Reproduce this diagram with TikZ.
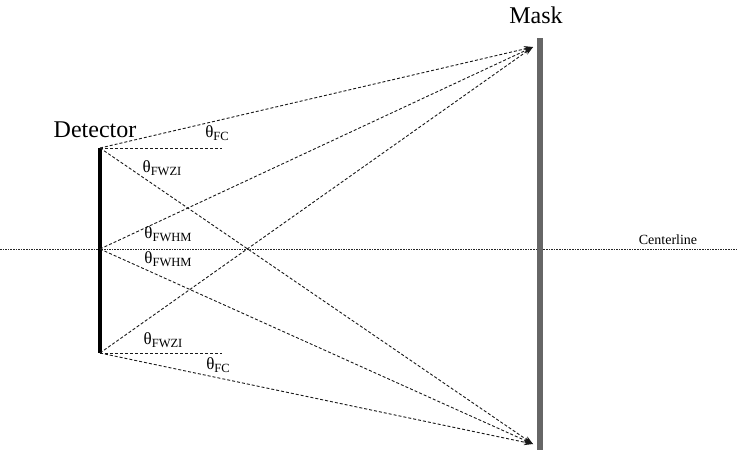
\documentclass[tikz,border=0pt]{standalone}
\usepackage{fontspec}
\setmainfont{Liberation Serif}
\usetikzlibrary{arrows.meta}
\tikzset{
  ray/.style={draw=black!90, line width=0.9pt, dash pattern=on 3pt off 2pt, -{Stealth[length=9pt,width=6pt]}},
  refline/.style={draw=black!90, line width=0.9pt, dash pattern=on 3pt off 2pt},
  cline/.style={draw=black!85, line width=0.8pt, dash pattern=on 1.6pt off 1pt},
  big/.style={font=\fontsize{24}{24}\selectfont, inner sep=0pt},
  ang/.style={font=\fontsize{17}{17}\selectfont, inner sep=0pt},
}
\newcommand{\thsub}[1]{θ\raisebox{-0.45ex}{\fontsize{12.5}{12.5}\selectfont #1}}
\begin{document}
\begin{tikzpicture}[x=1pt,y=-1pt]
\useasboundingbox (0,0) rectangle (738,450);
% centerline
\coordinate (cl0) at (0,249);
\coordinate (cl1) at (738,249);
\draw[cline] (cl0) -- (cl1);
% mask
\fill[black!60] (537,38) rectangle (543,450);
\node[big] (mask) at (536,15) {Mask};
% detector
\coordinate (dt) at (100,148);
\coordinate (dm) at (100,249);
\coordinate (db) at (100,353);
\draw[line width=3.5pt, black] (dt) -- (db);
\node[big] (det) at (95,130) {Detector};
% targets
\coordinate (mt) at (533,47);
\coordinate (mb) at (533,444);
\coordinate (ht) at (222,148);
\coordinate (hb) at (222,353);
% rays
\draw[ray] (dt) -- (mt);
\draw[ray] (dm) -- (mt);
\draw[ray] (db) -- (mt);
\draw[ray] (dt) -- (mb);
\draw[ray] (dm) -- (mb);
\draw[ray] (db) -- (mb);
\draw[refline] (dt) -- (ht);
\draw[refline] (db) -- (hb);
% labels
\node[ang] (fc1) at (217,133) {\thsub{FC}};
\node[ang] (fz1) at (162,168) {\thsub{FWZI}};
\node[ang] (fh1) at (168,234) {\thsub{FWHM}};
\node[ang] (fh2) at (168,259) {\thsub{FWHM}};
\node[ang] (fz2) at (163,340) {\thsub{FWZI}};
\node[ang] (fc2) at (218,365) {\thsub{FC}};
\node[font=\fontsize{14}{14}\selectfont, inner sep=0pt] (cl) at (668,240) {Centerline};
\end{tikzpicture}
\end{document}
